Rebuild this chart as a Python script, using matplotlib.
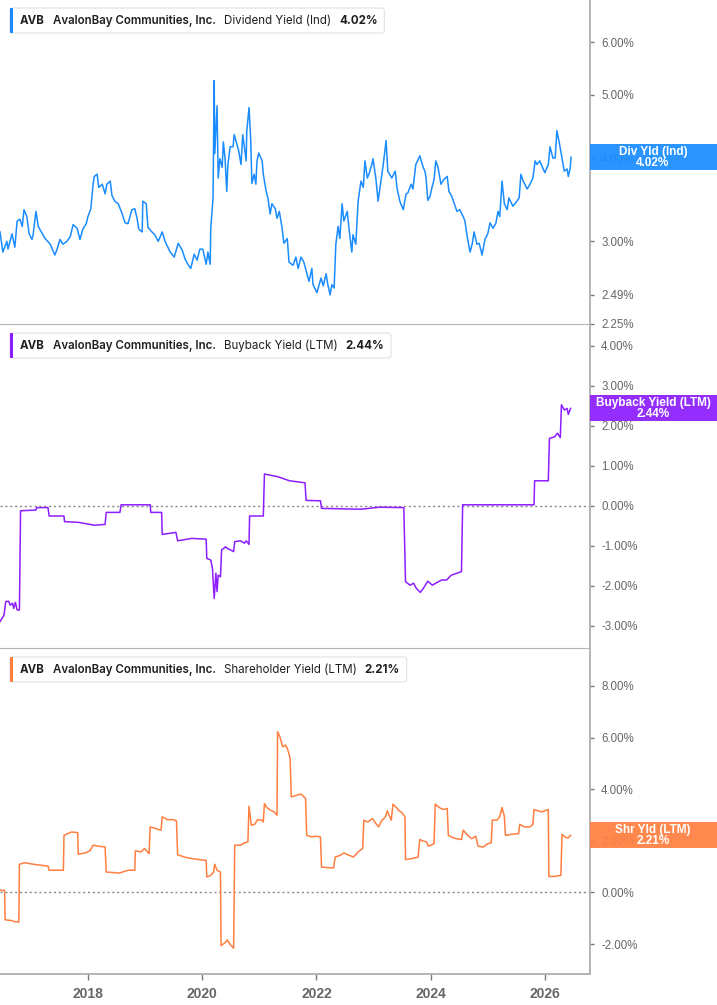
import matplotlib.pyplot as plt
from matplotlib.patches import FancyBboxPatch, Rectangle
from matplotlib.transforms import IdentityTransform
from matplotlib.ticker import FixedLocator, NullLocator

plt.rcParams['font.family'] = ['Inter', 'DejaVu Sans']

# --- data ---
div_years = [2016.46, 2016.51, 2016.58, 2016.60, 2016.67, 2016.72, 2016.76, 2016.81, 2016.85, 2016.88,
             2016.93, 2016.97, 2017.02, 2017.04, 2017.09, 2017.13, 2017.20, 2017.25, 2017.34, 2017.42,
             2017.46, 2017.51, 2017.56, 2017.63, 2017.69, 2017.74, 2017.81, 2017.86, 2017.91, 2017.97,
             2018.00, 2018.05, 2018.09, 2018.11, 2018.16, 2018.19, 2018.25, 2018.30, 2018.33, 2018.39,
             2018.42, 2018.47, 2018.53, 2018.60, 2018.65, 2018.70, 2018.77, 2018.82, 2018.86, 2018.89,
             2018.95, 2018.96, 2019.02, 2019.05, 2019.12, 2019.17, 2019.23, 2019.30, 2019.35, 2019.44,
             2019.51, 2019.58, 2019.65, 2019.70, 2019.75, 2019.80, 2019.86, 2019.91, 2019.96, 2020.01,
             2020.07, 2020.10, 2020.14, 2020.15, 2020.19, 2020.21, 2020.22, 2020.26, 2020.28, 2020.31,
             2020.35, 2020.37, 2020.40, 2020.43, 2020.45, 2020.49, 2020.54, 2020.56, 2020.61, 2020.64,
             2020.68, 2020.71, 2020.77, 2020.78, 2020.82, 2020.85, 2020.87, 2020.91, 2020.94, 2020.96,
             2020.99, 2021.05, 2021.07, 2021.12, 2021.15, 2021.19, 2021.22, 2021.28, 2021.31, 2021.35,
             2021.40, 2021.43, 2021.49, 2021.52, 2021.59, 2021.64, 2021.68, 2021.73, 2021.78, 2021.84,
             2021.87, 2021.92, 2021.94, 2022.01, 2022.08, 2022.12, 2022.17, 2022.20, 2022.24, 2022.27,
             2022.31, 2022.34, 2022.38, 2022.41, 2022.45, 2022.48, 2022.54, 2022.57, 2022.62, 2022.64,
             2022.69, 2022.73, 2022.78, 2022.82, 2022.85, 2022.89, 2022.92, 2022.97, 2022.99, 2023.04,
             2023.08, 2023.13, 2023.17, 2023.22, 2023.25, 2023.32, 2023.38, 2023.41, 2023.46, 2023.52,
             2023.57, 2023.60, 2023.66, 2023.69, 2023.74, 2023.81, 2023.87, 2023.90, 2023.92, 2023.95,
             2023.99, 2024.02, 2024.06, 2024.09, 2024.13, 2024.18, 2024.23, 2024.29, 2024.32, 2024.37,
             2024.41, 2024.46, 2024.51, 2024.57, 2024.60, 2024.64, 2024.69, 2024.73, 2024.76, 2024.81,
             2024.85, 2024.90, 2024.95, 2025.00, 2025.04, 2025.09, 2025.14, 2025.18, 2025.21, 2025.25,
             2025.29, 2025.34, 2025.37, 2025.44, 2025.51, 2025.55, 2025.58, 2025.62, 2025.69, 2025.74,
             2025.79, 2025.83, 2025.86, 2025.91, 2025.97, 2026.00, 2026.06, 2026.09, 2026.14, 2026.18,
             2026.21, 2026.25, 2026.30, 2026.34, 2026.39, 2026.41, 2026.44, 2026.46]
div_vals = [3.10, 2.89, 3.00, 2.92, 3.08, 2.94, 3.22, 3.24, 3.16, 3.35,
            3.27, 3.08, 3.02, 3.07, 3.33, 3.16, 3.08, 3.03, 2.97, 2.86,
            2.92, 3.02, 2.97, 3.00, 3.05, 3.18, 3.14, 3.02, 3.13, 3.19,
            3.27, 3.36, 3.66, 3.76, 3.79, 3.62, 3.66, 3.54, 3.66, 3.70,
            3.52, 3.45, 3.42, 3.30, 3.20, 3.19, 3.35, 3.36, 3.25, 3.13,
            3.10, 3.45, 3.42, 3.15, 3.10, 3.07, 3.00, 3.10, 3.00, 2.89,
            2.84, 2.98, 2.91, 2.82, 2.77, 2.73, 2.87, 2.81, 2.92, 2.92,
            2.77, 2.89, 2.77, 3.14, 3.49, 5.25, 4.07, 4.81, 3.74, 4.00,
            3.88, 4.24, 4.01, 3.57, 3.92, 4.17, 4.17, 4.35, 4.20, 4.11,
            3.92, 4.35, 3.97, 4.39, 4.78, 4.26, 3.67, 3.79, 3.66, 3.97,
            4.08, 3.97, 3.79, 3.57, 3.49, 3.30, 3.42, 3.36, 3.25, 3.33,
            3.14, 2.98, 3.03, 2.79, 2.76, 2.84, 2.73, 2.84, 2.79, 2.67,
            2.61, 2.73, 2.58, 2.51, 2.64, 2.57, 2.68, 2.58, 2.49, 2.58,
            2.55, 2.97, 3.16, 3.03, 3.42, 3.22, 3.33, 3.14, 2.89, 3.07,
            2.97, 3.45, 3.70, 3.62, 3.97, 3.74, 3.79, 3.92, 4.00, 3.74,
            3.45, 3.70, 3.92, 4.26, 3.83, 3.74, 3.83, 3.62, 3.45, 3.35,
            3.54, 3.55, 3.66, 3.60, 3.92, 4.04, 3.88, 3.83, 3.74, 3.46,
            3.51, 3.61, 3.72, 3.97, 3.88, 3.66, 3.72, 3.76, 3.57, 3.51,
            3.43, 3.33, 3.35, 3.27, 3.22, 3.05, 2.89, 2.98, 3.10, 2.97,
            2.98, 2.86, 3.02, 3.08, 3.20, 3.14, 3.19, 3.33, 3.27, 3.70,
            3.42, 3.35, 3.49, 3.39, 3.45, 3.49, 3.79, 3.70, 3.60, 3.66,
            3.74, 3.97, 3.92, 3.97, 3.86, 3.81, 3.92, 4.17, 4.01, 4.01,
            4.41, 4.24, 4.01, 3.83, 3.86, 3.76, 3.86, 4.02]

bb_years = [2016.46, 2016.53, 2016.56, 2016.61, 2016.64, 2016.68, 2016.70, 2016.73, 2016.76, 2016.80,
            2016.82, 2017.09, 2017.10, 2017.30, 2017.32, 2017.58, 2017.59, 2017.84, 2018.11, 2018.30,
            2018.32, 2018.56, 2018.58, 2019.09, 2019.10, 2019.29, 2019.30, 2019.54, 2019.57, 2019.82,
            2020.07, 2020.08, 2020.15, 2020.18, 2020.21, 2020.24, 2020.26, 2020.28, 2020.32, 2020.34,
            2020.41, 2020.44, 2020.50, 2020.55, 2020.57, 2020.67, 2020.74, 2020.77, 2020.82, 2020.83,
            2021.07, 2021.09, 2021.33, 2021.53, 2021.80, 2021.82, 2022.07, 2022.09, 2022.78, 2023.11,
            2023.53, 2023.56, 2023.64, 2023.70, 2023.75, 2023.82, 2023.88, 2023.95, 2024.03, 2024.09,
            2024.19, 2024.28, 2024.36, 2024.46, 2024.54, 2024.56, 2025.81, 2025.82, 2026.06, 2026.08,
            2026.17, 2026.22, 2026.27, 2026.29, 2026.34, 2026.39, 2026.41, 2026.45]
bb_vals = [-2.89, -2.73, -2.39, -2.38, -2.48, -2.43, -2.56, -2.41, -2.60, -2.60,
           -0.12, -0.10, -0.04, -0.04, -0.25, -0.25, -0.39, -0.41, -0.48, -0.46,
           -0.16, -0.16, 0.03, 0.03, -0.16, -0.16, -0.71, -0.66, -0.87, -0.81,
           -0.83, -1.31, -1.35, -1.56, -2.31, -1.68, -2.14, -1.73, -1.77, -1.10,
           -1.02, -1.06, -1.10, -1.14, -0.89, -0.87, -0.93, -0.87, -0.96, -0.25,
           -0.25, 0.80, 0.73, 0.63, 0.58, 0.14, 0.13, -0.06, -0.08, -0.03,
           -0.04, -1.89, -1.98, -1.93, -2.06, -2.16, -2.04, -1.88, -1.98, -1.93,
           -1.85, -1.85, -1.73, -1.68, -1.64, 0.03, 0.03, 0.63, 0.63, 1.69,
           1.73, 1.82, 1.71, 2.53, 2.40, 2.44, 2.29, 2.44]

sh_years = [2016.46, 2016.54, 2016.55, 2016.66, 2016.72, 2016.79, 2016.80, 2016.89, 2017.05, 2017.30,
            2017.32, 2017.57, 2017.58, 2017.71, 2017.82, 2017.83, 2017.97, 2018.04, 2018.09, 2018.18,
            2018.30, 2018.32, 2018.55, 2018.70, 2018.82, 2018.83, 2018.93, 2018.99, 2019.07, 2019.09,
            2019.19, 2019.28, 2019.30, 2019.39, 2019.49, 2019.55, 2019.57, 2019.69, 2019.82, 2019.95,
            2020.07, 2020.08, 2020.15, 2020.20, 2020.22, 2020.26, 2020.32, 2020.33, 2020.41, 2020.44,
            2020.49, 2020.55, 2020.57, 2020.67, 2020.74, 2020.80, 2020.82, 2020.86, 2020.92, 2020.97,
            2021.04, 2021.07, 2021.09, 2021.13, 2021.20, 2021.26, 2021.31, 2021.32, 2021.36, 2021.41,
            2021.46, 2021.50, 2021.54, 2021.56, 2021.66, 2021.73, 2021.81, 2021.83, 2021.92, 2021.99,
            2022.07, 2022.09, 2022.19, 2022.30, 2022.33, 2022.42, 2022.48, 2022.57, 2022.65, 2022.73,
            2022.81, 2022.83, 2022.90, 2022.98, 2023.04, 2023.09, 2023.14, 2023.21, 2023.24, 2023.31,
            2023.34, 2023.40, 2023.45, 2023.50, 2023.55, 2023.56, 2023.67, 2023.78, 2023.81, 2023.87,
            2023.93, 2023.96, 2024.06, 2024.08, 2024.15, 2024.22, 2024.29, 2024.31, 2024.39, 2024.46,
            2024.54, 2024.57, 2024.65, 2024.72, 2024.79, 2024.83, 2024.92, 2025.00, 2025.06, 2025.08,
            2025.16, 2025.21, 2025.25, 2025.29, 2025.31, 2025.41, 2025.54, 2025.56, 2025.64, 2025.74,
            2025.79, 2025.81, 2025.94, 2026.06, 2026.07, 2026.17, 2026.28, 2026.30, 2026.37, 2026.41,
            2026.45]
sh_vals = [0.08, 0.08, -1.06, -1.09, -1.13, -1.15, 1.09, 1.15, 1.09, 1.02,
           0.86, 0.86, 2.21, 2.34, 2.32, 1.48, 1.54, 1.63, 1.83, 1.79,
           1.76, 0.79, 0.75, 0.86, 0.86, 1.61, 1.57, 1.70, 1.50, 2.54,
           2.47, 2.41, 2.93, 2.82, 2.82, 2.77, 1.46, 1.37, 1.31, 1.27,
           1.24, 0.60, 0.66, 0.79, 1.09, 0.86, 0.79, -2.06, -1.93, -1.84,
           -2.02, -2.16, 1.83, 1.83, 1.92, 1.96, 3.34, 2.60, 2.64, 2.82,
           2.80, 2.73, 3.44, 3.29, 3.18, 3.12, 2.99, 6.23, 6.03, 5.64,
           5.71, 5.52, 5.19, 3.70, 3.77, 3.81, 3.64, 2.21, 2.15, 2.18,
           2.15, 0.98, 0.96, 0.95, 1.37, 1.44, 1.53, 1.44, 1.37, 1.57,
           1.70, 2.80, 2.73, 2.86, 2.67, 2.54, 2.77, 2.93, 3.16, 2.80,
           3.42, 3.29, 3.16, 3.08, 2.93, 1.27, 1.31, 1.37, 2.05, 1.99,
           1.96, 1.79, 1.89, 3.42, 3.29, 3.21, 3.25, 2.21, 2.12, 2.08,
           2.05, 2.41, 2.21, 2.08, 2.18, 1.79, 1.76, 1.89, 1.92, 2.80,
           2.80, 2.93, 3.29, 2.95, 2.21, 2.25, 2.28, 2.64, 2.54, 2.54,
           2.64, 3.21, 3.12, 3.21, 0.62, 0.62, 0.66, 2.25, 2.12, 2.12,
           2.21]

div_ticks = [2.25, 2.49, 3.0, 4.0, 5.0, 6.0]
bb_ticks = [-3, -2, -1, 0, 1, 2, 3, 4]
sh_ticks = [-2, 0, 2, 4, 6, 8]
year_ticks = [2018, 2020, 2022, 2024, 2026]

blue = '#1a8cff'
purple = '#8c1eff'
orange = '#ff7f41'
grey_axis = '#b4b4b4'

W, H = 717, 1005
fig = plt.figure(figsize=(W / 100, H / 100), dpi=100)


def panel(top, bottom):
    return fig.add_axes([0, 1 - bottom / H, 590 / W, (bottom - top) / H])


ax1 = panel(0, 324)
ax2 = panel(325, 648)
ax3 = panel(649, 974)

ax1.plot(div_years, div_vals, color=blue, lw=1.1)
ax2.plot(bb_years, bb_vals, color=purple, lw=1.1)
ax3.plot(sh_years, sh_vals, color=orange, lw=1.1)

ax1.set_yscale('log')
ax1.set_ylim(2.25, 6.95)
ax2.set_ylim(-3.55, 4.525)
ax3.set_ylim(-3.16, 9.43)

for ax, ticks in [(ax1, div_ticks), (ax2, bb_ticks), (ax3, sh_ticks)]:
    ax.set_xlim(2016.46, 2026.79)
    ax.yaxis.set_major_locator(FixedLocator(ticks))
    ax.yaxis.set_minor_locator(NullLocator())
    ax.set_yticklabels([f"{t:.2f}%" for t in ticks])
    ax.yaxis.tick_right()
    ax.tick_params(axis='y', direction='out', length=3, width=1, color='#777',
                   labelsize=8.3, labelcolor='#666', pad=5)
    for lab in ax.get_yticklabels():
        lab.set_family(['Liberation Sans', 'DejaVu Sans'])
    ax.spines['left'].set_visible(False)
    ax.spines['top'].set_visible(False)
    ax.spines['right'].set_color(grey_axis)
    ax.spines['right'].set_linewidth(1.4)
    ax.spines['bottom'].set_color(grey_axis)
    ax.spines['bottom'].set_linewidth(0.8)
    ax.patch.set_alpha(0)

for ax in (ax1, ax2):
    ax.set_xticks([])

ax2.axhline(0, color='#888', lw=1, ls=(0, (1.5, 2)), zorder=0)
ax3.axhline(0, color='#888', lw=1, ls=(0, (1.5, 2)), zorder=0)

ax3.set_xticks(year_ticks)
ax3.set_xticklabels([str(y) for y in year_ticks])
ax3.tick_params(axis='x', direction='out', length=4, width=1, color='#777',
                labelsize=10, labelcolor='#666', pad=5)
for lab in ax3.get_xticklabels():
    lab.set_family(['Liberation Sans', 'DejaVu Sans'])
    lab.set_fontweight('bold')
ax3.spines['bottom'].set_linewidth(1.4)

renderer = fig.canvas.get_renderer()
ident = IdentityTransform()


def header(y_top, color, metric, value):
    parts = [("AVB", 'bold'), ("AvalonBay Communities, Inc.", 'semibold'),
             (metric, 'normal'), (value, 'bold')]
    yc = H - (y_top + 12.5)
    x = 20
    for s, w in parts:
        t = fig.text(x, yc, s, transform=ident, fontsize=8.3, fontweight=w,
                     color='#1f1f1f', va='center', ha='left', zorder=6)
        ext = t.get_window_extent(renderer)
        x = ext.x1 + 8
    box = FancyBboxPatch((10, H - y_top - 25), x - 8 - 10 + 7, 25,
                         boxstyle='round,pad=0,rounding_size=3', transform=ident,
                         facecolor='white', edgecolor='#e2e2e2', lw=0.8, zorder=5)
    fig.add_artist(box)
    fig.add_artist(Rectangle((10, H - y_top - 25), 3, 25, transform=ident,
                             facecolor=color, edgecolor='none', zorder=5.5))


def badge(y_center, color, name, value):
    fig.add_artist(Rectangle((590, H - y_center - 13), 127, 26, transform=ident,
                             facecolor=color, edgecolor='none', alpha=0.93, zorder=5))
    fig.text(653, H - y_center + 5.5, name, transform=ident, fontsize=8.5, fontweight='bold',
             color='white', ha='center', va='center', zorder=6,
             family=['Liberation Sans', 'DejaVu Sans'])
    fig.text(653, H - y_center - 5.5, value, transform=ident, fontsize=8.5, fontweight='bold',
             color='white', ha='center', va='center', zorder=6,
             family=['Liberation Sans', 'DejaVu Sans'])


header(8, blue, "Dividend Yield (Ind)", "4.02%")
header(333, purple, "Buyback Yield (LTM)", "2.44%")
header(657, orange, "Shareholder Yield (LTM)", "2.21%")


def val_to_px(ax, v):
    return ax.transData.transform((2020, v))[1]


for ax, color, name, v in [(ax1, blue, "Div Yld (Ind)", div_vals[-1]),
                           (ax2, purple, "Buyback Yield (LTM)", bb_vals[-1]),
                           (ax3, orange, "Shr Yld (LTM)", sh_vals[-1])]:
    badge(H - val_to_px(ax, v), color, name, f"{v:.2f}%")

fig.savefig('out.png', dpi=100)
